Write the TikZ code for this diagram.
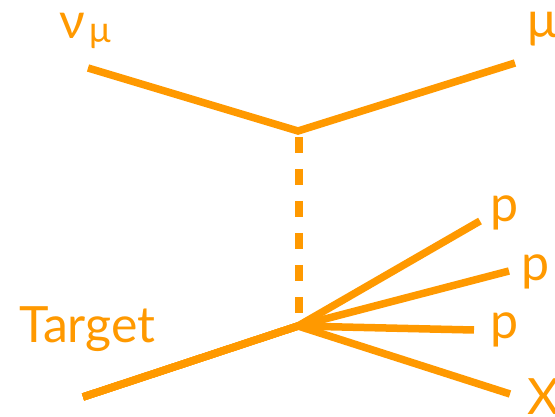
\documentclass[tikz,border=0pt]{standalone}
\usepackage{fontspec}
\setmainfont{Lato}
\definecolor{feyn}{HTML}{FF9900}
\begin{document}
\begin{tikzpicture}[x=1pt,y=-1pt,
  fline/.style={draw=feyn,line width=7.5pt,line join=miter},
  boson/.style={draw=feyn,line width=8pt,dash pattern=on 16pt off 16pt},
  lbl/.style={text=feyn,font=\fontsize{50}{60}\selectfont,inner sep=0pt,anchor=base west},
  sublbl/.style={text=feyn,font=\fontsize{36}{42}\selectfont,inner sep=0pt,anchor=base west}]
\useasboundingbox (0,0) rectangle (555,417);
% vertices and free ends
\coordinate (vtop) at (298,131);
\coordinate (vbot) at (298,326);
\coordinate (nuin) at (88,68);
\coordinate (muout) at (515,63);
\coordinate (tgt) at (83,397);
\coordinate (p1) at (480,221);
\coordinate (p2) at (509,271);
\coordinate (p3) at (474,330);
\coordinate (xo) at (510,394);
\coordinate (dtop) at (299,137);
\coordinate (dbot) at (299,313);
% lines
\draw[fline] (nuin) -- (vtop) -- (muout);
\draw[boson] (dtop) -- (dbot);
\draw[fline] (tgt) -- (vbot) -- (p1);
\draw[fline] (tgt) -- (vbot) -- (p2);
\draw[fline] (tgt) -- (vbot) -- (p3);
\draw[fline] (tgt) -- (vbot) -- (xo);
% labels
\node[lbl] (nulbl) at (59,39) {ν};
\node[sublbl] (nusub) at (89,43) {μ};
\node[lbl] (mulbl) at (527,38) {μ};
\node[lbl] (tlbl) at (19,342) {Target};
\node[lbl] (p1lbl) at (490,222) {p};
\node[lbl] (p2lbl) at (521,280) {p};
\node[lbl] (p3lbl) at (490,338) {p};
\node[lbl] (xlbl) at (527,414) {X};
\end{tikzpicture}
\end{document}
